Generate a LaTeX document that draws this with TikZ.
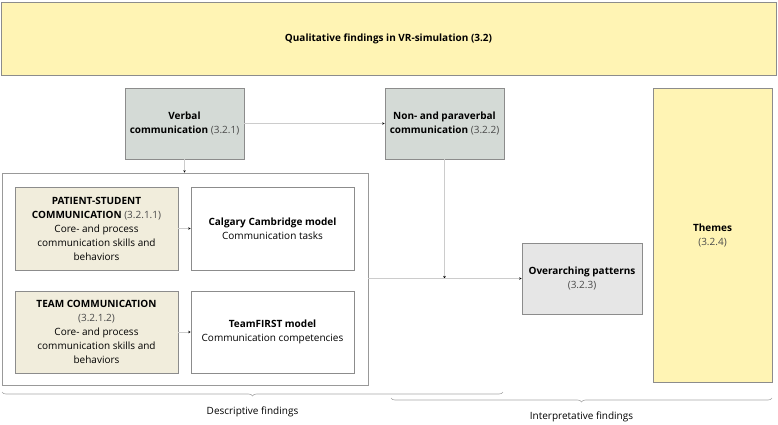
\documentclass[tikz,border=0pt]{standalone}
\usepackage{fontspec}
\setmainfont{Open Sans}
\usepackage{tikz}
\usetikzlibrary{arrows.meta,positioning,decorations.pathreplacing}

\definecolor{titleyellow}{HTML}{FFF4B4}
\definecolor{verbgray}{HTML}{D4DAD6}
\definecolor{beige}{HTML}{F1EDDC}
\definecolor{overgray}{HTML}{E6E6E6}
\definecolor{edgegray}{HTML}{8C8C8C}
\definecolor{linegray}{HTML}{CCCCCC}
\definecolor{numgray}{HTML}{4A4A4A}

\newcommand{\nr}[1]{{\color{numgray}#1}}

\begin{document}
\begin{tikzpicture}[x=1pt,y=-1pt,
    every node/.style={font=\fontsize{10}{14}\selectfont, align=center, inner sep=2pt},
    box/.style={draw=edgegray, line width=0.6pt},
    conn/.style={draw=linegray, line width=0.5pt, -{Stealth[length=2.5pt,width=2.5pt,black]}},
    findbrace/.style={draw=gray!70, line width=0.6pt, decorate, decoration={brace,mirror,amplitude=4pt}}]
    \useasboundingbox (0,0) rectangle (778,424);
    % top banner
    \node[box, fill=titleyellow, minimum width=775pt, minimum height=73pt] (title) at (388.5,38.5)
        {\textbf{Qualitative findings in VR-simulation (3.2)}};
    \node[box, fill=verbgray, minimum width=119pt, minimum height=71pt] (verbal) at (184.5,123.5)
        {\textbf{Verbal}\\\textbf{communication} \nr{(3.2.1)}};
    \node[box, fill=verbgray, minimum width=119pt, minimum height=71pt] (nonverbal) at (444.5,123.5)
        {\textbf{Non- and paraverbal}\\\textbf{communication} \nr{(3.2.2)}};
    % frame round the descriptive part
    \node[draw=gray!80, line width=0.6pt, minimum width=366pt, minimum height=212pt] (frame) at (185,279) {};
    \node[box, fill=beige, minimum width=163pt, minimum height=83pt] (patient) at (96.5,228.5)
        {\textbf{PATIENT-STUDENT}\\\textbf{COMMUNICATION} \nr{(3.2.1.1)}\\Core- and process\\communication skills and\\behaviors};
    \node[box, fill=white, minimum width=163pt, minimum height=83pt] (calgary) at (272.5,228.5)
        {\textbf{Calgary Cambridge model}\\Communication tasks};
    \node[box, fill=beige, minimum width=163pt, minimum height=82pt] (team) at (96.5,332)
        {\textbf{TEAM COMMUNICATION}\\\nr{(3.2.1.2)}\\Core- and process\\communication skills and\\behaviors};
    \node[box, fill=white, minimum width=163pt, minimum height=82pt] (teamfirst) at (272.5,332)
        {\textbf{TeamFIRST model}\\Communication competencies};
    \node[box, fill=overgray, minimum width=120pt, minimum height=71pt] (overarch) at (582,278.5)
        {\textbf{Overarching patterns}\\\nr{(3.2.3)}};
    \node[box, fill=titleyellow, minimum width=119pt, minimum height=294pt] (themes) at (712.5,235)
        {\textbf{Themes}\\\nr{(3.2.4)}};
    \coordinate (junc) at (nonverbal |- overarch);
    % connectors
    \draw[conn] (verbal) -- (nonverbal);
    \draw[conn] (verbal) -- (verbal |- frame.north);
    \draw[conn] (patient) -- (calgary);
    \draw[conn] (team) -- (teamfirst);
    \draw[conn] (nonverbal) -- (junc);
    \draw[conn] (frame.east |- overarch) -- (overarch.west);
    % braces
    \coordinate (descL) at (2,392);
    \coordinate (descR) at (503,392);
    \coordinate (intL) at (391,398);
    \coordinate (intR) at (772,398);
    \draw[findbrace] (descL) -- (descR);
    \draw[findbrace] (intL) -- (intR);
    \node (desc) at (252.5,412) {Descriptive findings};
    \node (interp) at (581.5,417) {Interpretative findings};
\end{tikzpicture}
\end{document}
